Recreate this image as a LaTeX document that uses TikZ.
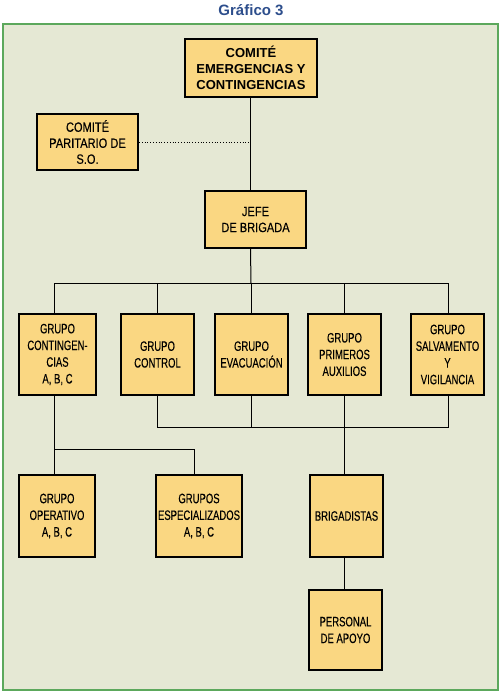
\documentclass[tikz,border=0pt]{standalone}
\usepackage{fontspec}
\setmainfont{Liberation Sans}
\newfontfamily\cond[FakeStretch=0.70,FakeBold=0.2]{Liberation Sans}
\newfontfamily\condw[FakeStretch=0.82,FakeBold=0.15]{Liberation Sans}
\usetikzlibrary{calc}
\definecolor{boxfill}{RGB}{250,215,130}
\definecolor{bgfill}{RGB}{229,232,212}
\definecolor{framegreen}{RGB}{92,168,92}
\definecolor{titleblue}{RGB}{45,78,140}
\begin{document}
\begin{tikzpicture}[x=1pt,y=-1pt,
  orgbox/.style={draw=black, line width=2pt, fill=boxfill, inner sep=0pt, align=center,
    font=\cond\fontsize{13.6}{16.7}\selectfont},
  widebox/.style={orgbox, font=\condw\fontsize{13.5}{16}\selectfont},
  link/.style={draw=black, line width=1pt},
  dotlink/.style={draw=black, line width=0.8pt, dotted},
]
\useasboundingbox (0,0) rectangle (501,693);
\node[font=\bfseries\fontsize{15}{18}\selectfont, text=titleblue] (title) at (251,10) {Gráfico 3};
\node[draw=framegreen, line width=2pt, fill=bgfill, minimum width=495pt, minimum height=666pt, inner sep=0pt] (frm) at (250.5,357) {};

\node[orgbox, minimum width=132pt, minimum height=58pt, font=\bfseries\fontsize{13}{15.7}\selectfont] (top) at (251,68) {COMITÉ\\EMERGENCIAS Y\\CONTINGENCIAS};
\node[widebox, minimum width=101pt, minimum height=56pt] (par) at (87.5,142) {COMITÉ\\PARITARIO DE\\S.O.};
\node[widebox, minimum width=101pt, minimum height=57pt] (jefe) at (255.5,219.5) {JEFE\\DE BRIGADA};

\node[orgbox, minimum width=77pt, minimum height=81pt] (g1) at (57.5,354.5) {GRUPO\\CONTINGEN-\\CIAS\\A, B, C};
\node[orgbox, minimum width=73pt, minimum height=81pt] (g2) at (157.5,354.5) {GRUPO\\CONTROL};
\node[orgbox, minimum width=73pt, minimum height=81pt] (g3) at (251.5,354.5) {GRUPO\\EVACUACIÓN};
\node[orgbox, minimum width=73pt, minimum height=81pt] (g4) at (344.5,354.5) {GRUPO\\PRIMEROS\\AUXILIOS};
\node[orgbox, minimum width=73pt, minimum height=81pt] (g5) at (447.5,354.5) {GRUPO\\SALVAMENTO\\Y\\VIGILANCIA};

\node[orgbox, minimum width=76pt, minimum height=82pt] (op) at (57,516) {GRUPO\\OPERATIVO\\A, B, C};
\node[orgbox, minimum width=86pt, minimum height=82pt] (esp) at (199,516) {GRUPOS\\ESPECIALIZADOS\\A, B, C};
\node[orgbox, minimum width=73pt, minimum height=82pt] (brig) at (346.5,516) {BRIGADISTAS};
\node[orgbox, minimum width=73pt, minimum height=80pt] (pers) at (345.5,630) {PERSONAL\\DE APOYO};

% coordinates for the bus lines
\coordinate (mx) at (250.5,0);
\coordinate (b1) at (54,283);
\coordinate (b2) at (157,283);
\coordinate (b3) at (251,283);
\coordinate (b4) at (344.3,283);
\coordinate (b5) at (448,283);
\coordinate (l2) at (157,427);
\coordinate (l3) at (251,427);
\coordinate (l5) at (448,427);
\coordinate (s1) at (54,449);
\coordinate (s2) at (194,449);

% top to jefe
\draw[link] (top.south -| mx) -- (jefe.north -| mx);
% dotted link from comite paritario
\draw[dotlink] (par.east) -- (par.east -| mx);
% jefe to upper bus
\draw[link] (jefe.south -| mx) -- (b3);
\draw[link] (b1) -- (b5);
\draw[link] (b1) -- (b1 |- g1.north);
\draw[link] (b2) -- (b2 |- g2.north);
\draw[link] (b3) -- (b3 |- g3.north);
\draw[link] (b4) -- (b4 |- g4.north);
\draw[link] (b5) -- (b5 |- g5.north);
% lower bus
\draw[link] (l2 |- g2.south) -- (l2) -- (l5) -- (l5 |- g5.south);
\draw[link] (l3 |- g3.south) -- (l3);
% primeros auxilios to brigadistas to personal
\draw[link] (b4 |- g4.south) -- (b4 |- brig.north);
\draw[link] (b4 |- brig.south) -- (b4 |- pers.north);
% contingencias to operativo and especializados
\draw[link] (s1 |- g1.south) -- (s1 |- op.north);
\draw[link] (s1) -- (s2) -- (s2 |- esp.north);
\end{tikzpicture}
\end{document}
